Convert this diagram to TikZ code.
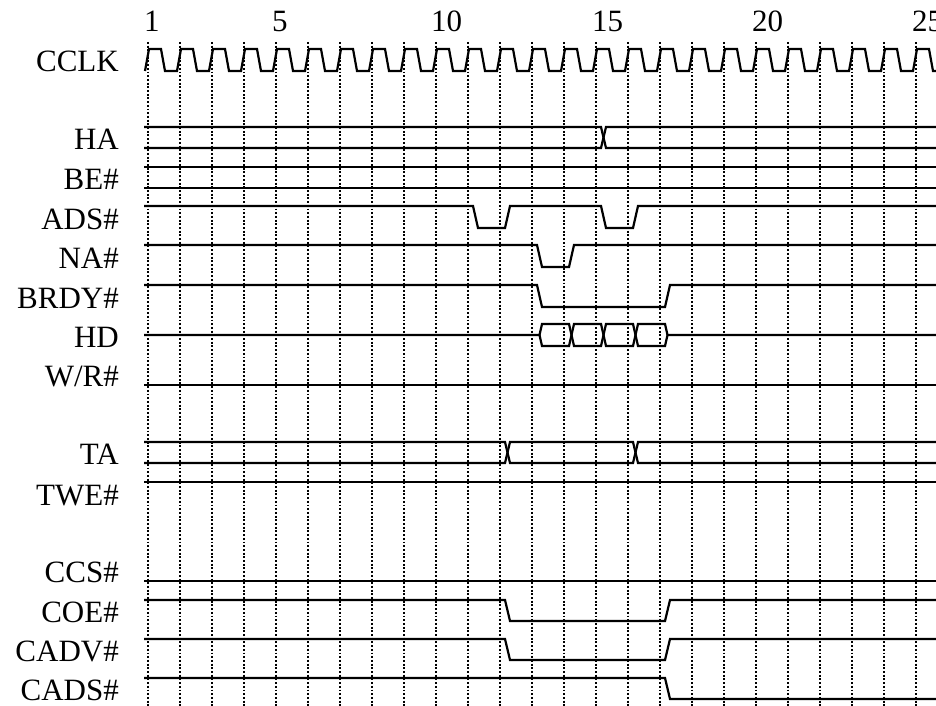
\documentclass[tikz,border=0pt]{standalone}
\usepackage{fontspec}
\setmainfont{Liberation Serif}
\usepackage{tikz}

\begin{document}
\begin{tikzpicture}[x=1pt,y=1pt,
  sig/.style={black,line width=2.2pt},
  gridline/.style={black,line width=1.6pt,dash pattern=on 1.9pt off 1.8pt},
  lbl/.style={anchor=base east,inner sep=0pt,font=\fontsize{31}{37}\selectfont},
  num/.style={anchor=base west,inner sep=0pt,font=\fontsize{31}{37}\selectfont}]
\useasboundingbox (0,0) rectangle (936,-706);
\clip (0,0) rectangle (936,-706);
\fill [white] (0,0) rectangle (936,-706);
% clock grid
\foreach \x in {148,180,...,916}
  \draw [gridline] (\x,-42) -- (\x,-706);
% cycle numbers
\node [num] (n1) at (144,-32) {1};
\node [num] (n5) at (272,-32) {5};
\node [num] (n10) at (431,-32) {10};
\node [num] (n15) at (592,-32) {15};
\node [num] (n20) at (752,-32) {20};
\node [num] (n25) at (912,-32) {25};
% signal names
\node [lbl] (cclk) at (119,-72) {CCLK};
\node [lbl] (ha) at (119,-149.5) {HA};
\node [lbl] (be) at (119,-189.5) {BE\#};
\node [lbl] (ads) at (119,-229.5) {ADS\#};
\node [lbl] (na) at (119,-268.5) {NA\#};
\node [lbl] (brdy) at (119,-308.5) {BRDY\#};
\node [lbl] (hd) at (119,-347.5) {HD};
\node [lbl] (wr) at (119,-386.5) {W/R\#};
\node [lbl] (ta) at (119,-464.5) {TA};
\node [lbl] (twe) at (119,-505) {TWE\#};
\node [lbl] (ccs) at (119,-582.5) {CCS\#};
\node [lbl] (coe) at (119,-622.5) {COE\#};
\node [lbl] (cadv) at (119,-661.5) {CADV\#};
\node [lbl] (cads) at (119,-700.5) {CADS\#};
% CCLK
\draw [sig] (145,-71) \foreach \x in {148,180,...,948} {
  -- (\x+1,-49) -- (\x+13,-49) -- (\x+17,-71) -- (\x+29,-71) };
% HA
\draw [sig] (144,-127) -- (601,-127) -- (606,-148) -- (936,-148);
\draw [sig] (144,-148) -- (601,-148) -- (606,-127) -- (936,-127);
% BE#
\draw [sig] (144,-167) -- (936,-167);
\draw [sig] (144,-188) -- (936,-188);
% ADS#
\draw [sig] (144,-206) -- (473,-206) -- (478,-228) -- (505,-228) -- (510,-206)
  -- (601,-206) -- (606,-228) -- (633,-228) -- (638,-206) -- (936,-206);
% NA#
\draw [sig] (144,-245) -- (537,-245) -- (542,-267) -- (569,-267) -- (574,-245) -- (936,-245);
% BRDY#
\draw [sig] (144,-285) -- (537,-285) -- (542,-307) -- (665,-307) -- (670,-285) -- (936,-285);
% HD
\draw [sig] (144,-335) -- (539.5,-335) -- (542,-324) -- (569,-324) -- (574,-346) -- (601,-346)
  -- (606,-324) -- (633,-324) -- (638,-346) -- (665,-346) -- (667.5,-335) -- (936,-335);
\draw [sig] (539.5,-335) -- (542,-346) -- (569,-346) -- (574,-324) -- (601,-324)
  -- (606,-346) -- (633,-346) -- (638,-324) -- (665,-324) -- (667.5,-335);
% W/R#
\draw [sig] (144,-385) -- (936,-385);
% TA
\draw [sig] (144,-442) -- (505,-442) -- (510,-463) -- (633,-463) -- (638,-442) -- (936,-442);
\draw [sig] (144,-463) -- (505,-463) -- (510,-442) -- (633,-442) -- (638,-463) -- (936,-463);
% TWE#
\draw [sig] (144,-482) -- (936,-482);
% CCS#
\draw [sig] (144,-581) -- (936,-581);
% COE#
\draw [sig] (144,-600) -- (505,-600) -- (510,-621) -- (665,-621) -- (670,-600) -- (936,-600);
% CADV#
\draw [sig] (144,-639) -- (505,-639) -- (510,-660) -- (665,-660) -- (670,-639) -- (936,-639);
% CADS#
\draw [sig] (144,-678) -- (665,-678) -- (670,-699) -- (936,-699);
\end{tikzpicture}
\end{document}
